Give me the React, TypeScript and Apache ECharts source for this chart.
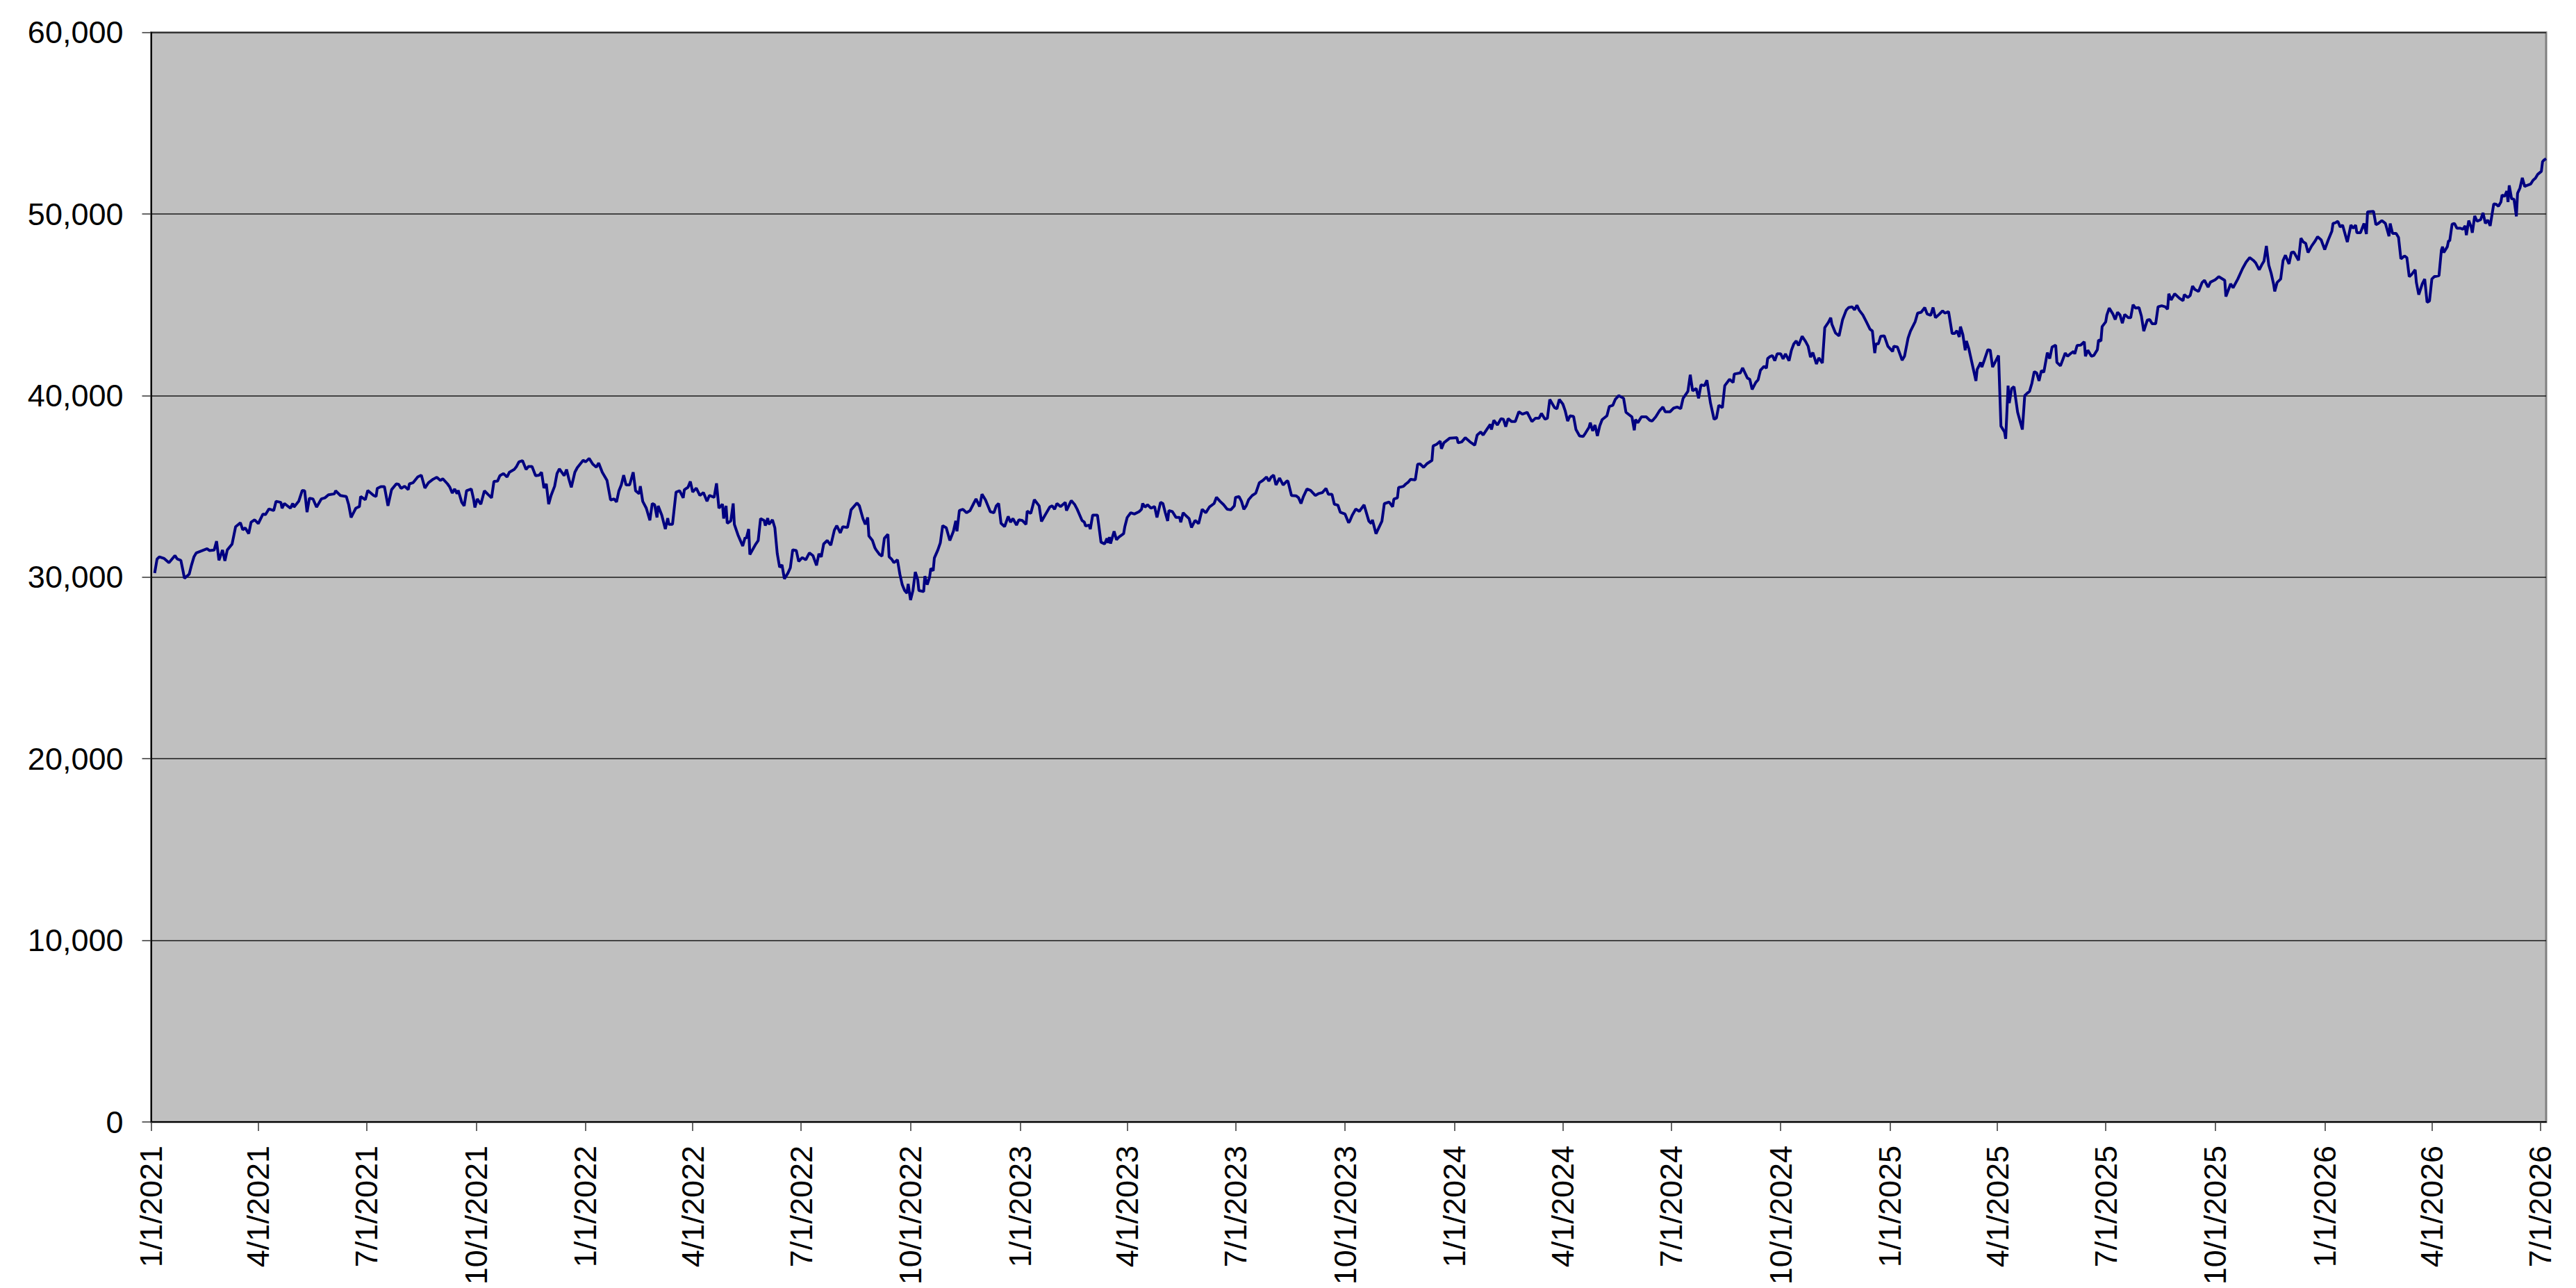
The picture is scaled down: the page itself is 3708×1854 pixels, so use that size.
import React, { useEffect, useRef } from "react";
import * as echarts from "echarts";

// Each point: [days since 1/1/2021, index value]
const pts2021: [number, number][] = [
  [3,30230],[5,31000],[7,31120],[11,31030],[15,30800],[20,31190],[22,31000],[25,30930],[27,30290],[28,29940],
  [32,30170],[34,30680],[36,31120],[38,31340],[47,31570],[49,31470],[53,31500],[55,31980],[57,30930],[60,31500],
  [62,30900],[64,31500],[68,31820],[71,32780],[75,33000],[77,32610],[79,32720],[82,32400],[84,33030],[87,33160],
  [90,32950],[94,33480],[96,33440],[99,33760],[103,33670],[105,34180],[109,34120],[110,33800],[112,34060],[117,33800],
  [119,34060],[120,33860],[124,34180],[127,34780],[129,34760],[131,33580],[133,34350],[136,34310],[139,33860],[143,34310],
  [146,34370],[149,34540],[154,34590],[155,34760],[159,34500],[164,34440],[166,33990],[168,33290],[172,33800],[175,33890],
  [176,34440],[180,34270],[182,34780],[187,34500],[189,34440],[190,34890],[193,34990],[196,34990],[199,33930],[202,34820],
  [206,35140],[208,35110],[210,34890],[213,35010],[216,34820],[217,35140],[220,35200],[224,35520],[227,35620],[230,34910],
  [233,35200],[237,35400],[240,35500],[243,35330],[245,35420],[249,35140],[251,34950],[253,34630],[255,34860],[257,34600],
  [258,34780],[261,34120],[263,33930],[265,34760],[269,34860],[271,34270],[272,33840],[274,34310],[277,34020],[280,34760],
  [283,34560],[286,34370],[288,35270],[291,35290],[293,35590],[296,35710],[299,35520],[301,35780],[305,35930],[307,36100],
  [309,36350],[312,36420],[315,35930],[317,36100],[320,36100],[323,35590],[326,35620],[328,35780],[330,34910],[332,35140],
  [334,34020],[336,34500],[339,35010],[341,35710],[343,35970],[345,35780],[347,35590],[349,35930],[351,35400],[353,34950],
  [356,35780],[358,36030],[363,36440],
];
const pts2022: [number, number][] = [
  [365,36350],[368,36540],[371,36230],[374,36060],[376,36290],[379,35780],[383,35330],[386,34250],[389,34310],[391,34140],
  [393,34760],[395,35080],[397,35620],[399,35080],[402,35080],[405,35780],[407,34760],[410,34600],[411,35010],[413,34180],
  [416,33800],[419,33130],[421,34060],[423,33990],[425,33290],[426,33930],[429,33420],[432,32650],[434,33250],[435,32910],
  [438,32910],[441,34690],[444,34760],[447,34370],[448,34820],[451,34950],[453,35270],[455,34690],[458,34910],[461,34500],
  [464,34660],[467,34180],[469,34500],[473,34400],[475,35170],[477,33800],[480,34020],[481,33230],[483,33930],[484,32970],
  [487,33100],[489,34060],[490,32910],[493,32330],[497,31720],[499,32180],[500,32140],[502,32650],[503,31250],[508,31830],
  [510,32020],[512,33230],[515,33120],[516,32840],[518,33250],[519,32910],[522,33160],[524,32720],[526,31310],[528,30550],
  [530,30680],[532,29910],[535,30230],[537,30520],[539,31510],[542,31470],[544,30870],[547,31080],[550,30960],[553,31340],
  [556,31190],[559,30650],[561,31290],[563,31120],[565,31830],[568,32020],[571,31760],[574,32590],[576,32840],[579,32440],
  [581,32780],[585,32740],[587,33350],[588,33710],[593,34090],[595,33930],[598,33230],[600,32910],[602,33290],[603,32270],
  [606,32020],[608,31630],[609,31510],[612,31250],[614,31160],[616,32140],[619,32360],[620,31120],[622,31000],[624,30800],
  [627,30960],[629,30170],[631,29590],[633,29270],[635,29120],[636,29630],[638,28740],[640,29270],[642,30290],[644,29870],
  [645,29270],[649,29210],[650,30060],[652,29590],[654,30000],[655,30480],[657,30360],[658,31060],[661,31510],[663,31890],
  [665,32840],[668,32720],[671,32020],[674,32530],[676,33100],[677,32530],[679,33670],[682,33740],[685,33550],[688,33670],
  [691,34060],[693,34310],[696,33890],[698,34570],[701,34250],[705,33610],[708,33550],[710,33930],[712,34060],[714,32970],
  [717,32780],[720,33350],[722,33030],[724,33230],[727,32870],[729,33160],
];
const pts2023: [number, number][] = [
  [732,33120],[735,32910],[736,33640],[739,33510],[742,34270],[746,33930],[748,33070],[751,33420],[755,33870],[757,33930],
  [759,33740],[761,34060],[764,33890],[768,34120],[769,33670],[773,34220],[776,33990],[778,33740],[782,33130],[784,33030],
  [785,32820],[788,32870],[789,32650],[791,33420],[795,33420],[798,31930],[801,31830],[803,32140],[804,31890],[805,32210],
  [806,31850],[809,32530],[811,32060],[813,32210],[817,32400],[818,32780],[820,33290],[823,33550],[826,33480],[830,33610],
  [832,33740],[833,34060],[835,33860],[837,33990],[840,33800],[843,33890],[845,33290],[848,34120],[850,34060],[852,33550],
  [854,33100],[855,33670],[858,33610],[861,33290],[864,33290],[865,33030],[867,33550],[870,33350],[872,33230],[874,32740],
  [877,33130],[880,32950],[883,33740],[886,33550],[889,33860],[893,34060],[895,34400],[898,34180],[901,33990],[904,33740],
  [907,33710],[910,33930],[911,34400],[914,34440],[916,34180],[918,33740],[920,33930],[922,34270],[925,34500],[928,34630],
  [931,35200],[934,35330],[937,35520],[939,35290],[941,35520],[943,35620],[945,35080],[948,35460],[951,35080],[954,35290],
  [955,35290],[958,34500],[962,34480],[964,34370],[966,34060],[968,34440],[971,34860],[974,34780],[978,34500],[981,34610],
  [984,34660],[987,34890],[989,34570],[992,34570],[994,34020],[997,33970],[999,33580],[1003,33480],[1006,33000],[1007,33090],
  [1009,33410],[1012,33750],[1015,33630],[1019,33980],[1023,33090],[1025,32960],[1026,33160],[1029,32390],[1034,33090],[1036,34050],
  [1040,34140],[1043,33880],[1044,34300],[1047,34370],[1048,34940],[1052,35000],[1054,35130],[1056,35230],[1058,35390],[1062,35360],
  [1064,36220],[1066,36240],[1069,36050],[1072,36260],[1076,36430],[1077,37230],[1080,37320],[1083,37490],[1084,37070],[1086,37400],
  [1091,37660],
];
const pts2024: [number, number][] = [
  [1097,37680],[1098,37400],[1101,37450],[1104,37680],[1108,37450],[1112,37270],[1114,37830],[1117,38000],[1119,37830],[1122,38130],
  [1125,38420],[1126,38130],[1128,38640],[1131,38380],[1134,38730],[1136,38700],[1138,38290],[1140,38730],[1143,38570],[1146,38570],
  [1149,39110],[1152,38980],[1156,39080],[1160,38570],[1163,38760],[1166,38760],[1168,39020],[1171,38700],[1173,38760],[1175,39790],
  [1179,39340],[1181,39270],[1183,39790],[1186,39530],[1188,39150],[1190,38600],[1192,38890],[1195,38850],[1197,38130],[1200,37780],
  [1203,37750],[1205,37940],[1208,38260],[1209,38510],[1211,38060],[1213,38380],[1215,37780],[1217,38340],[1219,38680],[1223,38890],
  [1225,39400],[1228,39470],[1230,39790],[1233,40000],[1237,39850],[1239,39080],[1244,38830],[1246,38090],[1247,38680],[1249,38510],
  [1252,38830],[1256,38830],[1259,38640],[1261,38600],[1264,38830],[1267,39150],[1270,39370],[1272,39110],[1276,39110],[1279,39310],
  [1282,39370],[1285,39280],[1287,39850],[1291,40230],[1293,41150],[1295,40260],[1298,40390],[1300,39850],[1302,40590],[1305,40550],
  [1307,40850],[1310,39590],[1313,38700],[1315,38770],[1317,39470],[1320,39340],[1322,40550],[1326,40900],[1329,40720],[1330,41190],
  [1335,41250],[1337,41530],[1341,40970],[1343,40900],[1345,40340],[1348,40720],[1350,40870],[1352,41400],[1355,41610],[1357,41510],
  [1358,42040],[1360,42150],[1362,42210],[1364,41920],[1366,42300],[1369,42300],[1371,42020],[1373,42300],[1376,41920],[1378,42500],
  [1380,42850],[1382,43010],[1384,42760],[1387,43270],[1390,42970],[1392,42720],[1394,42120],[1396,42370],[1399,41740],[1401,42080],
  [1404,41790],[1406,43740],[1409,44030],[1411,44290],[1412,43930],[1415,43450],[1418,43290],[1421,44190],[1424,44700],[1426,44850],
  [1429,44890],[1431,44720],[1433,44980],[1435,44700],[1438,44440],[1441,44060],[1444,43660],[1446,43560],[1448,42340],[1449,42850],
  [1451,42850],[1453,43270],[1456,43290],[1459,42720],
];
const pts2025: [number, number][] = [
  [1463,42430],[1464,42720],[1467,42680],[1471,41950],[1473,42170],[1476,43170],[1478,43550],[1482,44080],[1484,44540],[1487,44590],
  [1490,44850],[1492,44500],[1495,44420],[1497,44850],[1499,44290],[1502,44470],[1505,44670],[1507,44540],[1510,44630],[1513,43420],
  [1515,43420],[1517,43570],[1519,43230],[1520,43800],[1522,43360],[1524,42500],[1525,43010],[1527,42590],[1530,41700],[1533,40810],
  [1534,41440],[1537,41830],[1538,41570],[1540,41950],[1543,42530],[1545,42500],[1547,41570],[1552,42210],[1554,38320],[1557,38000],
  [1558,37620],[1560,40550],[1561,39590],[1563,40390],[1565,40490],[1568,39090],[1572,38130],[1574,40000],[1576,40130],[1578,40230],
  [1580,40680],[1582,41320],[1584,41250],[1586,40810],[1588,41380],[1590,41280],[1593,42370],[1595,42040],[1597,42680],[1600,42780],
  [1601,41830],[1604,41640],[1606,41990],[1608,42340],[1610,42170],[1613,42340],[1615,42430],[1616,42300],[1618,42760],[1621,42780],
  [1624,42970],[1625,42170],[1627,42500],[1630,42170],[1632,42210],[1635,42530],[1636,43060],[1638,43010],[1639,43800],[1642,44060],
  [1643,44440],[1645,44820],[1648,44500],[1650,44190],[1652,44590],[1654,44440],[1656,43990],[1658,44470],[1661,44290],[1663,44290],
  [1665,45010],[1667,44820],[1670,44850],[1672,44380],[1674,43550],[1677,44160],[1679,44190],[1681,43960],[1684,43960],[1686,44890],
  [1689,44950],[1692,44890],[1694,44760],[1695,45610],[1697,45270],[1700,45610],[1704,45360],[1707,45230],[1708,45560],[1711,45400],
  [1713,45520],[1715,46030],[1717,45840],[1720,45740],[1723,46230],[1725,46350],[1728,45970],[1730,46250],[1734,46380],[1737,46550],
  [1742,46350],[1743,45460],[1747,46160],[1749,45940],[1753,46420],[1757,47000],[1760,47350],[1763,47600],[1766,47450],[1768,47310],
  [1771,46930],[1773,47190],[1775,47410],[1777,48240],[1779,47190],[1781,46740],[1783,46160],[1784,45740],[1786,46230],[1789,46420],
  [1791,47440],[1793,47730],[1796,47250],[1798,47880],[1800,47910],[1804,47450],[1806,48670],[1808,48460],[1810,48390],[1812,47880],
  [1815,48240],[1818,48520],[1820,48750],[1823,48580],
];
const pts2026: [number, number][] = [
  [1826,48040],[1829,48580],[1832,49060],[1833,49480],[1835,49520],[1837,49600],[1839,49290],[1841,49390],[1845,48460],[1848,49390],
  [1850,49220],[1852,49390],[1853,48970],[1856,48970],[1859,49480],[1861,48900],[1862,50120],[1867,50150],[1869,49410],[1871,49480],
  [1874,49640],[1877,49480],[1880,48780],[1881,49480],[1883,48930],[1886,48930],[1888,48710],[1890,47530],[1893,47690],[1895,47600],
  [1897,46550],[1899,46670],[1902,46930],[1903,46230],[1905,45560],[1908,46160],[1910,46420],[1912,45140],[1914,45210],[1916,46420],
  [1918,46550],[1922,46610],[1924,48010],[1925,48200],[1926,47880],[1929,48200],[1930,48520],[1931,48520],[1933,49440],[1935,49480],
  [1937,49220],[1940,49220],[1942,49160],[1944,49350],[1945,48840],[1947,49640],[1949,49290],[1950,48970],[1952,49900],[1954,49600],
  [1957,49690],[1959,50060],[1961,49480],[1963,49670],[1965,49350],[1968,50560],[1970,50540],[1972,50430],[1974,50660],[1975,51050],
  [1977,50970],[1979,51260],[1980,50660],[1981,51580],[1983,50840],[1985,50820],[1987,49870],[1988,51140],[1990,51430],[1992,51990],
  [1994,51520],[1996,51580],[1999,51650],[2001,51860],[2003,51970],[2005,52190],[2008,52350],[2009,52880],[2010,52960],[2012,53050],
];

const xTickLabels = [
  "1/1/2021","4/1/2021","7/1/2021","10/1/2021","1/1/2022","4/1/2022","7/1/2022","10/1/2022",
  "1/1/2023","4/1/2023","7/1/2023","10/1/2023","1/1/2024","4/1/2024","7/1/2024","10/1/2024",
  "1/1/2025","4/1/2025","7/1/2025","10/1/2025","1/1/2026","4/1/2026","7/1/2026",
];
const xLastDay = 2012; // last trading day shown (days since 1/1/2021)
const yTicks = [0, 10000, 20000, 30000, 40000, 50000, 60000];

const DAY_MS = 86400000;
const START_UTC = Date.UTC(2021, 0, 1);
const parseMDYtoDay = (s: string) => {
  const [m, d, y] = s.split("/").map(Number);
  return Math.round((Date.UTC(y, m - 1, d) - START_UTC) / DAY_MS);
};
const fmtDay = (day: number) => {
  const d = new Date(START_UTC + Math.round(day) * DAY_MS);
  return `${d.getUTCMonth() + 1}/${d.getUTCDate()}/${d.getUTCFullYear()}`;
};

export default function App() {
  const ref = useRef<HTMLDivElement>(null);
  useEffect(() => {
    if (!ref.current) return;
    const chart = echarts.init(ref.current, null, { renderer: "svg" });
    const data = [...pts2021, ...pts2022, ...pts2023, ...pts2024, ...pts2025, ...pts2026];
    const tickDays = xTickLabels.map(parseMDYtoDay);
    const font = "'Liberation Sans', Arial, sans-serif";
    chart.setOption({
      animation: false,
      backgroundColor: "#ffffff",
      grid: {
        left: 217.5,
        right: 43,
        top: 46.7,
        bottom: 239,
        show: true,
        backgroundColor: "#C0C0C0",
        borderColor: "#808080",
        borderWidth: 3,
        containLabel: false,
        outerBoundsMode: "none",
      },
      xAxis: {
        type: "value",
        min: 0,
        max: xLastDay,
        axisLine: { show: true, onZero: false, lineStyle: { color: "#000000", width: 2 } },
        axisTick: {
          show: true,
          length: 13,
          customValues: tickDays,
          lineStyle: { color: "#333333", width: 1.5 },
        },
        axisLabel: {
          customValues: tickDays,
          rotate: 90,
          margin: 34,
          color: "#000000",
          fontFamily: font,
          fontSize: 45,
          formatter: (v: number) => fmtDay(v),
          showMinLabel: true,
          showMaxLabel: true,
        },
        splitLine: { show: false },
      },
      yAxis: {
        type: "value",
        min: yTicks[0],
        max: yTicks[yTicks.length - 1],
        interval: yTicks[1] - yTicks[0],
        axisLine: { show: true, lineStyle: { color: "#000000", width: 2 } },
        axisTick: { show: true, length: 13, lineStyle: { color: "#333333", width: 1.5 } },
        axisLabel: {
          margin: 40,
          color: "#000000",
          fontFamily: font,
          fontSize: 45,
          formatter: (v: number) => v.toLocaleString("en-US"),
        },
        splitLine: { show: true, lineStyle: { color: "#1a1a1a", width: 1.5 } },
      },
      series: [
        {
          type: "line",
          data,
          showSymbol: false,
          symbol: "none",
          lineStyle: { color: "#000080", width: 4 },
          itemStyle: { color: "#000080" },
          z: 5,
        },
      ],
    });
    return () => chart.dispose();
  }, []);
  return (
    <div
      ref={ref}
      style={{ position: "absolute", left: 0, top: 0, width: 3708, height: 1854 }}
    />
  );
}
